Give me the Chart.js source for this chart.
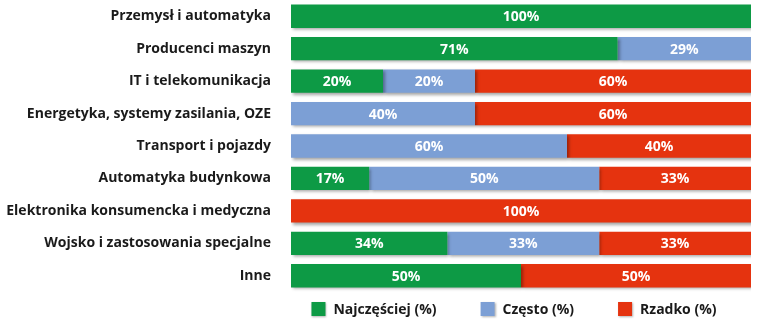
<!DOCTYPE html>
<html lang="pl">
<head>
<meta charset="UTF-8">
<title>Częstotliwość zastosowań wg branż</title>
<script src="https://cdn.jsdelivr.net/npm/chart.js"></script>
<style>
  html, body { margin: 0; padding: 0; background: #fff; }
  #wrap { width: 764px; height: 323px; }
</style>
</head>
<body>
<div id="wrap"><canvas id="chart" width="764" height="323"></canvas></div>
<script>
// branże i udziały odpowiedzi (%)
const categories = [
  'Przemysł i automatyka',
  'Producenci maszyn',
  'IT i telekomunikacja',
  'Energetyka, systemy zasilania, OZE',
  'Transport i pojazdy',
  'Automatyka budynkowa',
  'Elektronika konsumencka i medyczna',
  'Wojsko i zastosowania specjalne',
  'Inne'
];
const najczesciej = [100, 71, 20, 0, 0, 17, 0, 34, 50];
const czesto      = [0, 29, 20, 40, 60, 50, 0, 33, 0];
const rzadko      = [0, 0, 60, 60, 40, 33, 100, 33, 50];

const FONT = "'Open Sans', 'Noto Sans', sans-serif";

// lekki cień pod słupkami
const barShadow = {
  id: 'barShadow',
  beforeDatasetsDraw(chart) {
    const ctx = chart.ctx;
    ctx.save();
    ctx.shadowColor = 'rgba(0,0,0,0.35)';
    ctx.shadowBlur = 3;
    ctx.shadowOffsetX = 2;
    ctx.shadowOffsetY = 2;
  },
  afterDatasetsDraw(chart) {
    chart.ctx.restore();
  }
};

// wartości procentowe na środku segmentów
const valueLabels = {
  id: 'valueLabels',
  afterDatasetsDraw(chart) {
    const ctx = chart.ctx;
    ctx.save();
    ctx.fillStyle = '#fff';
    ctx.font = 'bold 14px ' + FONT;
    ctx.textAlign = 'center';
    ctx.textBaseline = 'middle';
    chart.data.datasets.forEach((ds, i) => {
      chart.getDatasetMeta(i).data.forEach((bar, j) => {
        const v = ds.data[j];
        if (!v) return;
        ctx.fillText(v + '%', (bar.x + bar.base) / 2, bar.y + 1);
      });
    });
    ctx.restore();
  }
};

// legenda pod słupkami, wyśrodkowana względem obszaru wykresu
const bottomLegend = {
  id: 'bottomLegend',
  afterDraw(chart) {
    const ctx = chart.ctx;
    const box = 14, gap = 8, spacing = 44;
    const y = chart.height - 14;
    ctx.save();
    ctx.font = 'bold 14px ' + FONT;
    ctx.textBaseline = 'middle';
    const items = chart.data.datasets.map(ds => ({
      text: ds.label, color: ds.backgroundColor,
      w: box + gap + ctx.measureText(ds.label).width
    }));
    const total = items.reduce((s, it) => s + it.w, 0) + spacing * (items.length - 1);
    let x = (chart.chartArea.left + chart.chartArea.right) / 2 - total / 2 - 7;
    items.forEach(it => {
      ctx.shadowColor = 'rgba(0,0,0,0.3)';
      ctx.shadowBlur = 2;
      ctx.shadowOffsetX = 1;
      ctx.shadowOffsetY = 1;
      ctx.fillStyle = it.color;
      ctx.fillRect(x, y - box / 2, box, box);
      ctx.shadowColor = 'transparent';
      ctx.fillStyle = '#1a1a1a';
      ctx.fillText(it.text, x + box + gap, y + 1);
      x += it.w + spacing;
    });
    ctx.restore();
  }
};

new Chart(document.getElementById('chart'), {
  type: 'bar',
  data: {
    labels: categories,
    datasets: [
      { label: 'Najczęściej (%)', data: najczesciej, backgroundColor: '#0d9a45' },
      { label: 'Często (%)', data: czesto, backgroundColor: '#7c9fd5' },
      { label: 'Rzadko (%)', data: rzadko, backgroundColor: '#e5330f' }
    ]
  },
  options: {
    indexAxis: 'y',
    responsive: false,
    animation: false,
    maintainAspectRatio: false,
    categoryPercentage: 0.72,
    barPercentage: 1,
    layout: { padding: { top: 0, right: 13, bottom: 31, left: 0 } },
    scales: {
      x: { stacked: true, min: 0, max: 100, display: false },
      y: {
        stacked: true,
        grid: { display: false, drawTicks: false },
        border: { display: false },
        ticks: {
          color: '#1a1a1a',
          padding: 20,
          font: { family: FONT, size: 14, weight: 'bold' }
        },
        afterFit(scale) {
          scale.width = 291;
          scale.paddingTop = 0;
          scale.paddingBottom = 0;
        }
      }
    },
    plugins: {
      tooltip: { enabled: false },
      legend: { display: false }
    }
  },
  plugins: [barShadow, valueLabels, bottomLegend]
});
</script>
</body>
</html>
